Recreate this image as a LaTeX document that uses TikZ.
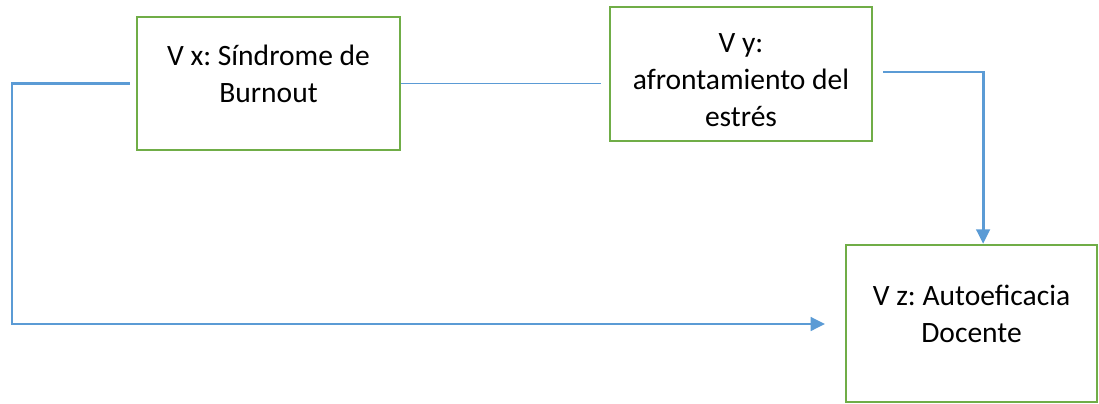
\documentclass[tikz,border=0pt]{standalone}
\usepackage{fontspec}
\setmainfont{Carlito}
\usetikzlibrary{arrows.meta, positioning, calc}
\definecolor{boxgreen}{HTML}{70AD47}
\definecolor{lineblue}{HTML}{5B9BD5}
\frenchspacing
\tikzset{
  varbox/.style={draw=boxgreen, line width=1.8pt, inner sep=0pt},
  vartext/.style={align=center, inner sep=0pt},
  conn/.style={draw=lineblue, line width=2pt},
  thinconn/.style={draw=lineblue, line width=1pt},
  tip/.style={-{Triangle[length=0.36cm, width=0.34cm]}}
}

\begin{document}
\begin{tikzpicture}[x=0.025cm, y=-0.025cm, font=\fontsize{21}{26.5}\selectfont]
  \useasboundingbox (0,0) rectangle (1099,403);

  % variables
  \node[varbox, minimum width=6.575cm, minimum height=3.325cm] (vx) at (268.5,83.5) {};
  \node[varbox, minimum width=6.55cm, minimum height=3.35cm] (vy) at (741,74) {};
  \node[varbox, minimum width=6.275cm, minimum height=3.925cm] (vz) at (971.5,323.5) {};

  \node[vartext] (vxt) at (268.5,74) {V x: Síndrome de\\Burnout};
  \node[vartext] (vyt) at (741,80) {V y:\\afrontamiento del\\estrés};
  \node[vartext] (vzt) at (971.5,314) {V z: Autoeficacia\\Docente};

  % connectors
  \coordinate (bend) at (12,324);
  \coordinate (tipz) at (825,324);
  \draw[conn, tip] ([xshift=-0.15cm]vx.west) -| (bend) -- (tipz);
  \draw[thinconn] (vx.east) -- ([xshift=-0.2cm]vy.west |- vx.east);
  \draw[conn, tip] ([xshift=0.25cm,yshift=0.05cm]vy.east) -| ([xshift=0.29cm]vz.north);
\end{tikzpicture}
\end{document}
